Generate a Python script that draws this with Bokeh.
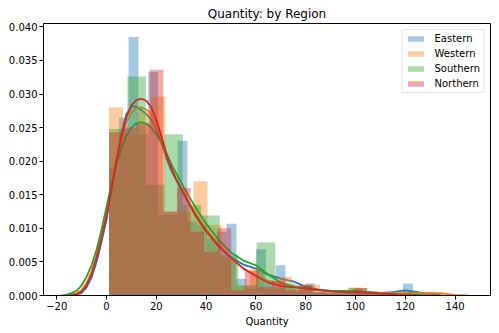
import numpy as np
from bokeh.plotting import figure
from bokeh.models import (Range1d, Legend, LegendItem, ColumnDataSource,
                          FixedTicker, NumeralTickFormatter)
from bokeh.embed import file_html
from bokeh.resources import INLINE

# ---------------- data ----------------
regions = ["Eastern", "Western", "Southern", "Northern"]
colors = ["#1f77b4", "#ff7f0e", "#2ca02c", "#d62728"]

# histogram ranges (min, max) and densities per bin
east_range = (1, 123)
east_hist = [0.019, 0.0265, 0.0385, 0.024, 0.0333, 0.012, 0.012, 0.023, 0.011,
             0.0105, 0.0085, 0.0095, 0.0107, 0.0025, 0.001, 0.0069, 0.002, 0.0045,
             0.0018, 0.0008, 0.0018, 0.0005, 0.0003, 0.0003, 0.0005, 0.0008, 0.0003,
             0.0, 0.0, 0.0003, 0.0018]
west_range = (1, 131)
west_hist = [0.028, 0.024, 0.0275, 0.0296, 0.0125, 0.0125, 0.017, 0.0105, 0.0055,
             0.0015, 0.004, 0.001, 0.0028, 0.001, 0.0016, 0.0005, 0.0003, 0.0012,
             0.0005, 0.0003, 0.0002, 0.0003, 0.0003]
south_range = (1, 127)
south_hist = [0.0248, 0.0326, 0.0165, 0.024, 0.0135, 0.0119, 0.006, 0.0015, 0.0079,
              0.0012, 0.0015, 0.0005, 0.0005, 0.0011, 0.0003, 0.0002, 0.0004]
north_range = (1, 121)
north_hist = [0.0243, 0.025, 0.0255, 0.0336, 0.0125, 0.016, 0.0095, 0.0065, 0.010,
              0.0008, 0.0037, 0.0013, 0.0022, 0.0008, 0.0016, 0.0005, 0.0004, 0.0004,
              0.0011, 0.0003, 0.0002, 0.0001]

# KDE curves
east_kde_x = [-13, -12, -10, -8, -6, -4, -2, 0, 2, 4, 6, 8, 10, 12, 14, 16, 18, 20, 22, 24,
              26, 28, 30, 33, 36, 40, 45, 50, 55, 60, 65, 70, 75, 80, 85, 90, 95, 100, 105,
              110, 115, 120, 125, 130, 135]
east_kde_y = [0.0, 0.0001, 0.0004, 0.0012, 0.0027, 0.0050, 0.0080, 0.0113, 0.0158, 0.0203,
              0.0243, 0.0270, 0.0282, 0.0281, 0.0276, 0.0270, 0.0262, 0.0248, 0.0228, 0.0205,
              0.0186, 0.0172, 0.0158, 0.0137, 0.0117, 0.0095, 0.0073, 0.0057, 0.0046, 0.0040,
              0.0031, 0.0025, 0.0021, 0.0013, 0.0009, 0.0007, 0.0006, 0.0006, 0.0005, 0.0004,
              0.0005, 0.00075, 0.0005, 0.0002, 0.0]
west_kde_x = [-15.5, -12, -10, -8, -6, -4, -2, 0, 2, 4, 6, 8, 10, 12, 14, 16, 18, 20, 22, 24,
              26, 28, 30, 33, 36, 40, 45, 50, 55, 60, 65, 70, 75, 80, 85, 90, 95, 100, 105,
              110, 115, 120, 125, 130, 135, 140, 145]
west_kde_y = [0.0, 0.0003, 0.0008, 0.0019, 0.0036, 0.0060, 0.0090, 0.0124, 0.0163, 0.0202,
              0.0235, 0.0258, 0.0272, 0.0279, 0.0280, 0.0277, 0.0270, 0.0256, 0.0235, 0.0211,
              0.0190, 0.0173, 0.0160, 0.0140, 0.0121, 0.0099, 0.0076, 0.0056, 0.0040, 0.0030,
              0.0022, 0.0017, 0.0014, 0.0011, 0.0008, 0.0006, 0.0005, 0.0006, 0.0005, 0.0004,
              0.0003, 0.0004, 0.0004, 0.0004, 0.0003, 0.0001, 0.0]
south_kde_x = [-18, -15, -12, -10, -8, -6, -4, -2, 0, 2, 4, 6, 8, 10, 12, 14, 16, 18, 20, 22,
               24, 26, 28, 30, 33, 36, 40, 45, 50, 55, 60, 65, 70, 75, 80, 85, 90, 95, 100,
               105, 110, 115, 120, 125, 130]
south_kde_y = [0.0, 0.0002, 0.0007, 0.0015, 0.0028, 0.0045, 0.0068, 0.0098, 0.0132, 0.0166,
               0.0195, 0.0220, 0.0238, 0.0250, 0.0256, 0.0258, 0.0256, 0.0250, 0.0240, 0.0228,
               0.0212, 0.0196, 0.0182, 0.0168, 0.0148, 0.0130, 0.0107, 0.0083, 0.0064, 0.0052,
               0.0045, 0.0031, 0.0019, 0.0013, 0.0010, 0.0008, 0.0007, 0.0007, 0.0007, 0.0005,
               0.0003, 0.0002, 0.0001, 0.0001, 0.0]
north_kde_x = [-14.5, -12, -10, -8, -6, -4, -2, 0, 2, 4, 6, 8, 10, 12, 14, 16, 18, 20, 22,
               24, 26, 28, 30, 33, 36, 40, 45, 50, 55, 60, 65, 70, 75, 80, 85, 90, 95, 100,
               105, 110, 115, 120, 125]
north_kde_y = [0.0, 0.0002, 0.0006, 0.0015, 0.0032, 0.0056, 0.0085, 0.0118, 0.0158, 0.0200,
               0.0237, 0.0265, 0.0283, 0.0291, 0.0293, 0.0290, 0.0280, 0.0262, 0.0238, 0.0212,
               0.0190, 0.0173, 0.0159, 0.0138, 0.0118, 0.0096, 0.0074, 0.0056, 0.0040, 0.0029,
               0.0019, 0.0014, 0.0012, 0.0011, 0.0008, 0.0006, 0.0005, 0.0005, 0.0004, 0.0003,
               0.0002, 0.0001, 0.0]

x_ticks = [-20, 0, 20, 40, 60, 80, 100, 120, 140]
y_ticks = [0.0, 0.005, 0.010, 0.015, 0.020, 0.025, 0.030, 0.035, 0.040]

series = [
    (east_range, east_hist, east_kde_x, east_kde_y),
    (west_range, west_hist, west_kde_x, west_kde_y),
    (south_range, south_hist, south_kde_x, south_kde_y),
    (north_range, north_hist, north_kde_x, north_kde_y),
]

FONT = "DejaVu Sans"

p = figure(width=499, height=333, output_backend="svg", toolbar_location=None,
           x_range=Range1d(-25.3, 154.2), y_range=Range1d(0, 0.0405),
           min_border_left=43, min_border_right=9, min_border_top=23,
           min_border_bottom=38, title="Quantity: by Region")
p.background_fill_color = "white"
p.border_fill_color = "white"
p.outline_line_color = "black"
p.outline_line_width = 1
p.xgrid.visible = False
p.ygrid.visible = False

p.title.align = "center"
p.title.text_font = FONT
p.title.text_font_size = "12px"
p.title.text_font_style = "normal"
p.title.text_color = "black"
p.title.standoff = 5

items = []
for name, color, (rng, hist, kx, ky) in zip(regions, colors, series):
    edges = np.linspace(rng[0], rng[1], len(hist) + 1)
    src = ColumnDataSource(dict(left=edges[:-1], right=edges[1:], top=hist,
                                bottom=[0] * len(hist)))
    r = p.quad(left="left", right="right", top="top", bottom="bottom", source=src,
               fill_color=color, fill_alpha=0.4, line_color=None)
    p.line(kx, ky, line_color=color, line_width=1.8)
    items.append(LegendItem(label=name, renderers=[r]))

legend = Legend(items=items, location="top_right")
legend.label_text_font = FONT
legend.label_text_font_size = "10px"
legend.label_text_color = "black"
legend.glyph_width = 20
legend.glyph_height = 7
legend.label_height = 11
legend.spacing = 4
legend.padding = 3
legend.margin = 6
legend.label_standoff = 9
legend.border_line_color = "#cccccc"
legend.border_line_width = 1
legend.background_fill_alpha = 0.8
p.add_layout(legend)

for ax in (p.xaxis, p.yaxis):
    ax.axis_line_color = "black"
    ax.major_tick_line_color = "black"
    ax.major_tick_out = 4
    ax.major_tick_in = 0
    ax.minor_tick_out = 0
    ax.minor_tick_in = 0
    ax.major_label_text_font = FONT
    ax.major_label_text_font_size = "10px"
    ax.major_label_text_color = "black"
    ax.major_label_standoff = 2

p.xaxis.ticker = FixedTicker(ticks=x_ticks)
p.xaxis.major_label_overrides = {t: ("\u2212" + str(abs(t)) if t < 0 else str(t)) for t in x_ticks}
p.yaxis.ticker = FixedTicker(ticks=y_ticks)
p.yaxis.formatter = NumeralTickFormatter(format="0.000")
p.xaxis.axis_label = "Quantity"
p.xaxis.axis_label_text_font = FONT
p.xaxis.axis_label_text_font_size = "10px"
p.xaxis.axis_label_text_font_style = "normal"
p.xaxis.axis_label_text_color = "black"
p.xaxis.axis_label_standoff = 3

open("out.html", "w").write(file_html(p, INLINE))
